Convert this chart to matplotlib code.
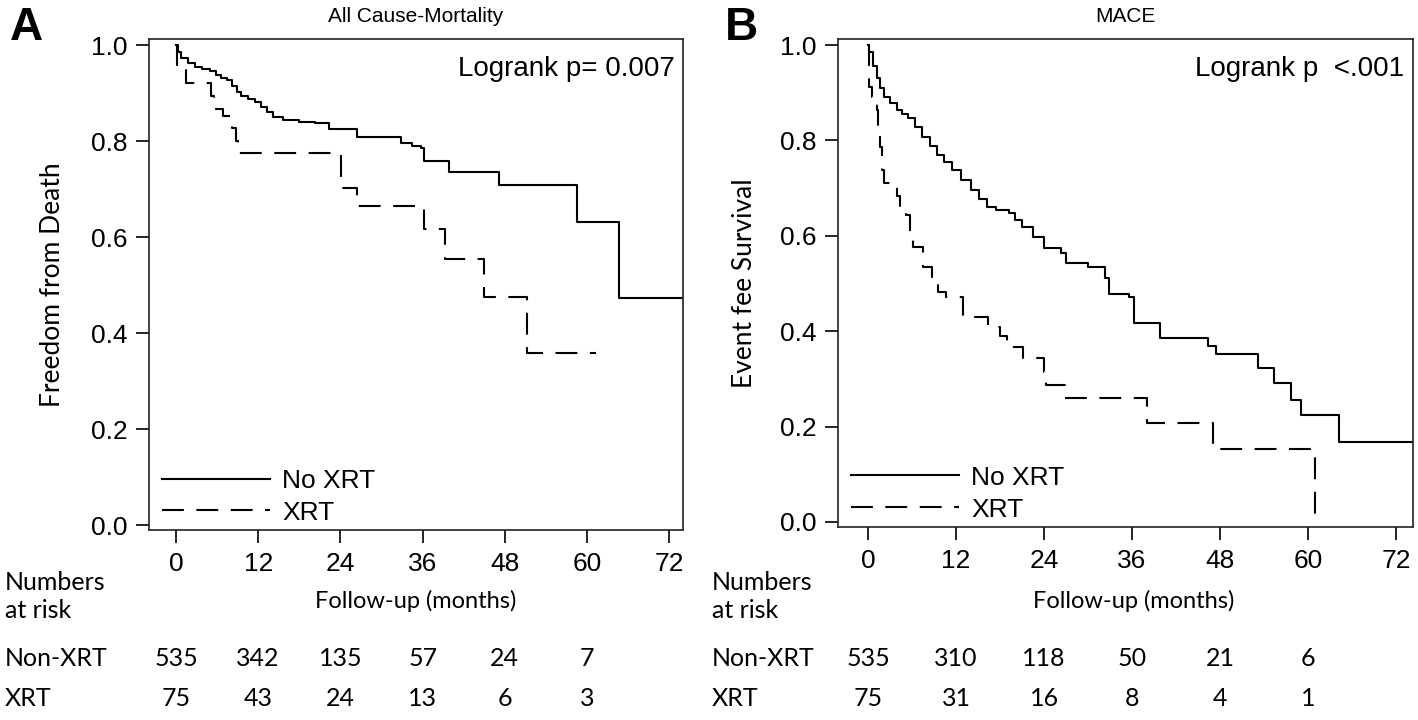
import matplotlib
matplotlib.use("Agg")
import matplotlib.pyplot as plt
from matplotlib.transforms import blended_transform_factory

# ---------------- data ----------------
xticks = [0, 12, 24, 36, 48, 60, 72]
yticks = [0.0, 0.2, 0.4, 0.6, 0.8, 1.0]

# Panel A: All cause mortality (Kaplan-Meier steps)
a_noxrt_t = [0, 0.3, 0.8, 1.8, 2.8, 3.8, 4.9, 5.8, 6.6, 7.4, 8.2, 8.9, 9.5, 10.5, 11.5,
             12.4, 13.3, 14.1, 15.6, 18.0, 20.3, 22.3, 26.4, 32.8, 34.5, 35.7, 36.2,
             39.8, 47.2, 58.5, 64.6, 74]
a_noxrt_s = [1.0, 0.985, 0.972, 0.962, 0.955, 0.950, 0.945, 0.938, 0.932, 0.927, 0.915,
             0.903, 0.893, 0.887, 0.882, 0.870, 0.860, 0.851, 0.844, 0.840, 0.837, 0.824,
             0.808, 0.796, 0.790, 0.785, 0.758, 0.735, 0.708, 0.631, 0.472, 0.472]
a_xrt_t = [0, 0.1, 1.5, 5.1, 5.6, 6.9, 8.2, 8.7, 9.0, 24.1, 26.4, 36.2, 39.3, 44.9,
           51.3, 61.3]
a_xrt_s = [1.0, 0.947, 0.920, 0.893, 0.867, 0.853, 0.827, 0.800, 0.775, 0.702, 0.664,
           0.616, 0.554, 0.474, 0.358, 0.358]

# Panel B: MACE
b_noxrt_t = [0, 0.2, 0.65, 1.2, 1.7, 2.2, 3.0, 3.9, 4.6, 5.4, 6.4, 7.4, 8.4, 9.4, 10.4,
             11.5, 12.7, 14.0, 15.1, 16.2, 17.5, 19.2, 20.1, 21.0, 22.5, 24.0, 26.3,
             27.0, 30.0, 32.3, 32.8, 35.6, 36.3, 39.8, 46.4, 47.4, 53.2, 55.4, 57.7,
             59.0, 64.2, 74.5]
b_noxrt_s = [1.0, 0.985, 0.955, 0.930, 0.910, 0.892, 0.878, 0.864, 0.855, 0.846, 0.828,
             0.808, 0.788, 0.769, 0.754, 0.738, 0.717, 0.696, 0.678, 0.661, 0.655, 0.647,
             0.633, 0.619, 0.597, 0.574, 0.563, 0.542, 0.535, 0.511, 0.479, 0.472, 0.417,
             0.385, 0.368, 0.352, 0.322, 0.291, 0.256, 0.224, 0.167, 0.167]
b_xrt_t = [0, 0.15, 0.6, 1.16, 1.4, 1.66, 1.9, 2.17, 3.4, 3.9, 4.4, 5.2, 5.7, 6.2, 7.5,
           8.7, 9.5, 10.7, 13.0, 16.3, 18.0, 19.0, 21.1, 24.0, 24.3, 26.8, 38.1, 47.1,
           60.9, 60.95]
b_xrt_s = [1.0, 0.913, 0.890, 0.864, 0.822, 0.786, 0.738, 0.710, 0.706, 0.684, 0.661,
           0.643, 0.595, 0.577, 0.535, 0.514, 0.483, 0.472, 0.430, 0.409, 0.390, 0.367,
           0.343, 0.315, 0.287, 0.259, 0.207, 0.154, 0.0, 0.0]

a_risk_noxrt = [535, 342, 135, 57, 24, 7]
a_risk_xrt = [75, 43, 24, 13, 6, 3]
b_risk_noxrt = [535, 310, 118, 50, 21, 6]
b_risk_xrt = [75, 31, 16, 8, 4, 1]
risk_times = [0, 12, 24, 36, 48, 60]

labels = ["No XRT", "XRT"]
titles = ["All Cause-Mortality", "MACE"]
ylabels = ["Freedom from Death", "Event fee Survival"]
pvals = ["Logrank p= 0.007", "Logrank p  <.001"]
panel_letters = ["A", "B"]

# ---------------- figure ----------------
ARIAL = ["Liberation Sans", "DejaVu Sans"]
CAL = ["Lato", "DejaVu Sans"]
plt.rcParams["font.family"] = ARIAL

fig = plt.figure(figsize=(14.18, 7.2), dpi=100)
W, H = 1418, 720

def px_axes(l, t, r, b):
    return fig.add_axes([l / W, 1 - b / H, (r - l) / W, (b - t) / H])

axA = px_axes(149, 39, 683, 530)
axB = px_axes(838, 39, 1413, 527)

dash = (0, (10.5, 6.0))
TAB = 18
panels = [
    (axA, a_noxrt_t, a_noxrt_s, a_xrt_t, a_xrt_s, (-3.94, 74.0), (-0.0104, 1.0125),
     a_risk_noxrt, a_risk_xrt, 5),
    (axB, b_noxrt_t, b_noxrt_s, b_xrt_t, b_xrt_s, (-4.09, 74.3), (-0.0105, 1.0126),
     b_risk_noxrt, b_risk_xrt, 712),
]

for i, (ax, t1, s1, t2, s2, xl, yl, r1, r2, rowx) in enumerate(panels):
    ax.step(t1, s1, where="post", color="black", lw=1.5, label=labels[0])
    ax.step(t2, s2, where="post", color="black", lw=1.5, linestyle=dash, label=labels[1])
    ax.set_xlim(*xl)
    ax.set_ylim(*yl)
    ax.set_xticks(xticks)
    ax.set_yticks(yticks)
    ax.set_yticklabels([f"{v:.1f}" for v in yticks])
    ax.tick_params(direction="out", length=9.5, width=1.2, labelsize=19, pad=6,
                   colors="black")
    for sp in ax.spines.values():
        sp.set_linewidth(1.2)
        sp.set_color("#222222")
    ax.set_title(titles[i], fontsize=15, pad=12)
    ax.set_ylabel(ylabels[i], fontsize=19, family=CAL)
    ax.set_xlabel("Follow-up (months)", fontsize=17, family=CAL)
    ax.text(0.985, 0.965, pvals[i], transform=ax.transAxes, ha="right", va="top",
            fontsize=20)
    ax.legend(loc="lower left", bbox_to_anchor=(0.0, -0.016), frameon=False,
              fontsize=19, handlelength=4.1, handletextpad=0.45,
              labelspacing=0.3, borderaxespad=0.3, borderpad=0.2)
    # numbers at risk
    tr = blended_transform_factory(ax.transData, fig.transFigure)
    for tt, n1, n2 in zip(risk_times, r1, r2):
        fig.text(tt, 1 - 658 / H, str(n1), transform=tr, ha="center", va="center",
                 fontsize=TAB, family=CAL)
        fig.text(tt, 1 - 698 / H, str(n2), transform=tr, ha="center", va="center",
                 fontsize=TAB, family=CAL)
    fig.text(rowx / W, 1 - 582 / H, "Numbers", ha="left", va="center", fontsize=TAB,
             family=CAL)
    fig.text(rowx / W, 1 - 611 / H, "at risk", ha="left", va="center", fontsize=TAB,
             family=CAL)
    fig.text(rowx / W, 1 - 658 / H, "Non-XRT", ha="left", va="center", fontsize=TAB,
             family=CAL)
    fig.text(rowx / W, 1 - 698 / H, "XRT", ha="left", va="center", fontsize=TAB,
             family=CAL)

axA.xaxis.set_label_coords(0.5, -0.122)
axB.xaxis.set_label_coords(0.515, -0.129)
axA.yaxis.set_label_coords(-0.157, 0.5)
axB.yaxis.set_label_coords(-0.14, 0.5)

fig.text(26 / W, 1 - 28 / H, panel_letters[0], fontsize=33, fontweight="bold",
         ha="center", va="center")
fig.text(741 / W, 1 - 28 / H, panel_letters[1], fontsize=33, fontweight="bold",
         ha="center", va="center")

fig.savefig("out.png", dpi=100)
